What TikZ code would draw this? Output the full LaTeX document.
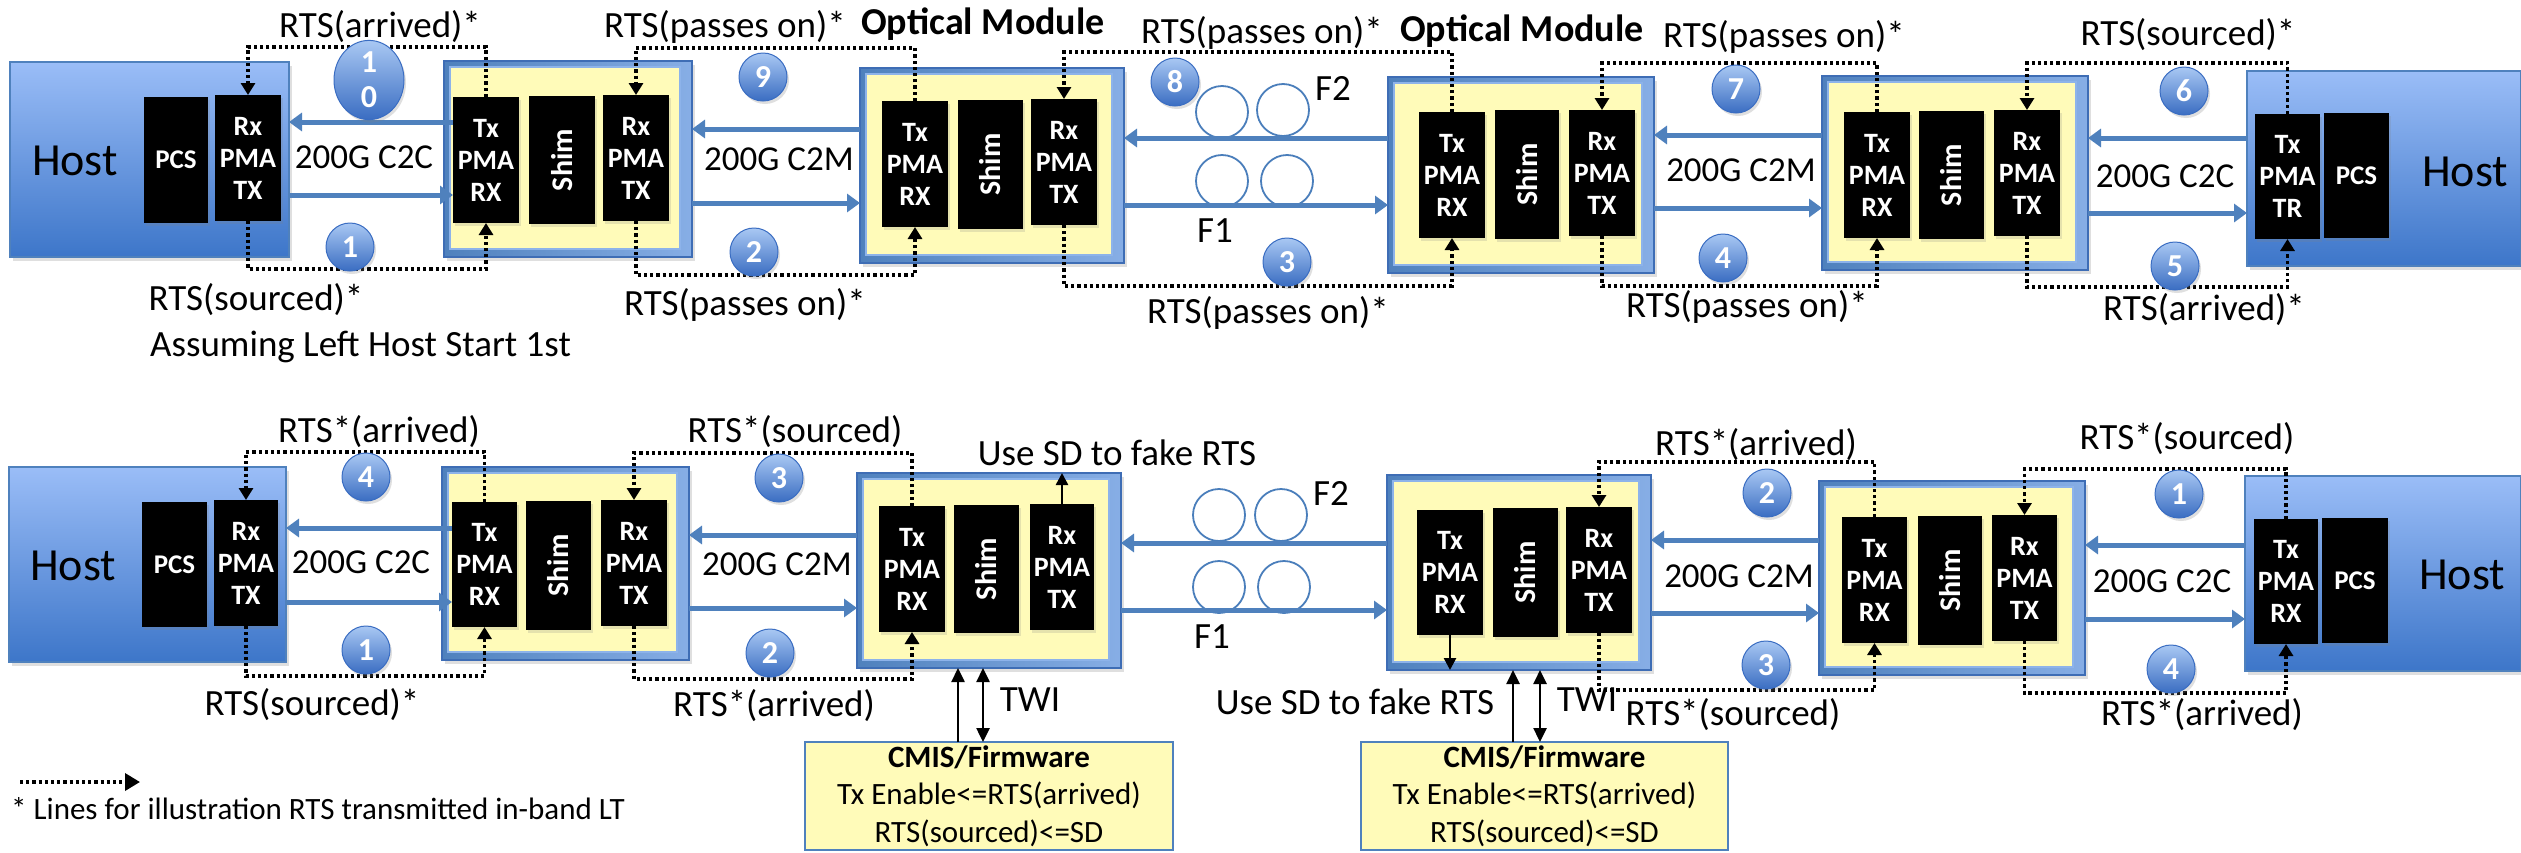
\documentclass[tikz,border=0pt]{standalone}
\usepackage{fontspec}
\setmainfont{Carlito}
\usepackage{graphicx}
\usetikzlibrary{arrows.meta,shapes.geometric,shadows}
\definecolor{frameblue}{HTML}{4F81BD}
\definecolor{framedark}{HTML}{3E6DB5}
\definecolor{framelight}{HTML}{8DB3EA}
\definecolor{hosttop}{HTML}{9ABDF7}
\definecolor{hostbot}{HTML}{3D76C9}
\definecolor{yel}{HTML}{FFFBB9}
\definecolor{arrowblue}{HTML}{4F81BD}
\definecolor{badgetop}{HTML}{A9C8F3}
\definecolor{badgebot}{HTML}{3A6DC2}
\definecolor{loopblue}{HTML}{4A7EBB}

\newcommand\rbox[7]{\node[#2, anchor=north west, minimum width={#5-#3}, minimum height={#6-#4}] (#1) at (#3,#4) {#7};}
\newcommand\mkmod[5]{\rbox{#1}{modout}{#2}{#3}{#4}{#5}{}%
  \node[modin, anchor=north west, minimum width={#4-#2-18}, minimum height={#5-#3-14}] (#1in) at ({#2+6},{#3+6}) {};}
\newcommand\shimtxt{\rotatebox{90}{\fontsize{30}{30}\selectfont\bfseries Shim}}
\newcommand\rtsup[3]{\draw[rts] (#1.north) -- (#1.north |- 0,#3) -| (#2.north);}
\newcommand\rtsdown[3]{\draw[rts] (#1.south) -- (#1.south |- 0,#3) -| (#2.south);}

\tikzset{
  base/.style={inner sep=0, outer sep=0},
  hostbox/.style={base, draw=frameblue, line width=1.5, top color=hosttop, bottom color=hostbot,
    drop shadow={opacity=0.25, shadow xshift=3pt, shadow yshift=-4pt}},
  modout/.style={base, draw=framedark, line width=1.5, left color=frameblue, right color=framelight!90!frameblue,
    drop shadow={opacity=0.25, shadow xshift=3pt, shadow yshift=-4pt}},
  modin/.style={base, draw=framelight, line width=1.5, fill=yel},
  blk/.style={base, fill=black, text=white, font=\fontsize{28}{32}\selectfont\bfseries, align=center,
    drop shadow={opacity=0.2, shadow xshift=2pt, shadow yshift=-3pt}},
  pcs/.style={blk, font=\fontsize{27}{32}\selectfont\bfseries},
  cmis/.style={base, draw=frameblue, line width=2, fill=yel, align=center, font=\fontsize{31}{37.5}\selectfont},
  lbl/.style={inner sep=0, font=\fontsize{37}{40}\selectfont},
  rlbl/.style={inner sep=0, font=\fontsize{35}{40}\selectfont},
  hlbl/.style={inner sep=0, font=\fontsize{46}{50}\selectfont},
  omlbl/.style={inner sep=0, font=\fontsize{38}{42}\selectfont\bfseries},
  badge/.style={circle, minimum size=48, inner sep=0, draw=badgebot, line width=1, top color=badgetop,
    bottom color=badgebot, text=white, font=\fontsize{32}{35}\selectfont\bfseries,
    drop shadow={opacity=0.25, shadow xshift=2pt, shadow yshift=-3pt}},
  barrow/.style={draw=arrowblue, line width=5, -{Triangle[length=13pt,width=18pt]}},
  rts/.style={draw=black, line width=3.5, dash pattern=on 3.2pt off 3pt, -{Triangle[length=12pt,width=14pt]}},
  solidarr/.style={draw=black, line width=2.5, -{Triangle[length=12pt,width=12pt]}},
  twi/.style={draw=black, line width=2.5, {Triangle[length=14pt,width=13pt]}-{Triangle[length=14pt,width=13pt]}},
  twione/.style={draw=black, line width=2.5, -{Triangle[length=14pt,width=13pt]}},
  fiber/.style={draw=loopblue, line width=1.8},
}

\begin{document}
\begin{tikzpicture}[x=1pt, y=-1pt]
\useasboundingbox (0,0) rectangle (2521,852);
\fill[white] (0,0) rectangle (2521,852);

%% ================= TOP ROW =================
\rbox{thL}{hostbox}{10}{62}{289}{257}{}
\node[hlbl] (thLt) at (75,161) {Host};
\mkmod{tsL}{444}{61}{692}{257}
\mkmod{toL}{860}{68}{1124}{263}
\mkmod{toR}{1388}{77}{1654}{273}
\mkmod{tsR}{1822}{76}{2088}{270}
\rbox{thR}{hostbox}{2247}{71}{2521}{266}{}
\node[hlbl] (thRt) at (2465,172) {Host};

% fiber loops
\draw[fiber] (1222,112) circle[radius=26];
\draw[fiber] (1283,110) circle[radius=26];
\draw[fiber] (1222,181) circle[radius=26];
\draw[fiber] (1287,181) circle[radius=26];

% black boxes
\rbox{thLpcs}{pcs}{144}{97}{208}{223}{PCS}
\rbox{thLrx}{blk}{215}{95}{281}{221}{Rx\\PMA\\TX}
\rbox{tsLtx}{blk}{453}{97}{519}{223}{Tx\\PMA\\RX}
\rbox{tsLsh}{blk}{529}{96}{595}{224}{\shimtxt}
\rbox{tsLrx}{blk}{603}{95}{669}{221}{Rx\\PMA\\TX}
\rbox{toLtx}{blk}{882}{101}{948}{227}{Tx\\PMA\\RX}
\rbox{toLsh}{blk}{958}{100}{1023}{229}{\shimtxt}
\rbox{toLrx}{blk}{1031}{99}{1097}{225}{Rx\\PMA\\TX}
\rbox{toRtx}{blk}{1419}{112}{1485}{238}{Tx\\PMA\\RX}
\rbox{toRsh}{blk}{1495}{110}{1559}{239}{\shimtxt}
\rbox{toRrx}{blk}{1569}{110}{1635}{236}{Rx\\PMA\\TX}
\rbox{tsRtx}{blk}{1844}{112}{1910}{238}{Tx\\PMA\\RX}
\rbox{tsRsh}{blk}{1919}{111}{1984}{239}{\shimtxt}
\rbox{tsRrx}{blk}{1994}{110}{2060}{236}{Rx\\PMA\\TX}
\rbox{thRtx}{blk}{2255}{114}{2320}{239}{Tx\\PMA\\TR}
\rbox{thRpcs}{pcs}{2324}{113}{2389}{238}{PCS}

% blue link arrows
\draw[barrow] (tsLtx.west |- 0,122) -- (thL.east |- 0,122);
\draw[barrow] (thL.east |- 0,195) -- (tsLtx.west |- 0,195);
\draw[barrow] (toL.west |- 0,129) -- (tsL.east |- 0,129);
\draw[barrow] (tsL.east |- 0,203) -- (toL.west |- 0,203);
\draw[barrow] (toR.west |- 0,138) -- (toL.east |- 0,138);
\draw[barrow] (toL.east |- 0,205) -- (toR.west |- 0,205);
\draw[barrow] (tsR.west |- 0,135) -- (toR.east |- 0,135);
\draw[barrow] (toR.east |- 0,208) -- (tsR.west |- 0,208);
\draw[barrow] (thR.west |- 0,138) -- (tsR.east |- 0,138);
\draw[barrow] (tsR.east |- 0,213) -- (thR.west |- 0,213);

% RTS dotted loops
\rtsup{tsLtx}{thLrx}{47}
\rtsdown{thLrx}{tsLtx}{269}
\rtsup{toLtx}{tsLrx}{48}
\rtsdown{tsLrx}{toLtx}{275}
\rtsup{toRtx}{toLrx}{52}
\rtsdown{toLrx}{toRtx}{286}
\rtsup{tsRtx}{toRrx}{63}
\rtsdown{toRrx}{tsRtx}{286}
\rtsup{thRtx}{tsRrx}{63}
\rtsdown{tsRrx}{thRtx}{287}

% badges
\node[badge, ellipse, minimum width=70, minimum height=63, font=\fontsize{32}{35}\selectfont\bfseries, align=center] (tb10) at (369,80) {1\\0};
\node[badge] (tb1) at (350,247) {1};
\node[badge] (tb9) at (763,77) {9};
\node[badge] (tb2) at (754,252) {2};
\node[badge] (tb8) at (1175,82) {8};
\node[badge] (tb3) at (1287,262) {3};
\node[badge] (tb7) at (1736,89) {7};
\node[badge] (tb4) at (1723,258) {4};
\node[badge] (tb6) at (2184,91) {6};
\node[badge] (tb5) at (2175,266) {5};

% labels
\node[rlbl] (tl1) at (364,157) {200G C2C};
\node[rlbl] (tl2) at (779,159) {200G C2M};
\node[rlbl] (tl3) at (1741,170) {200G C2M};
\node[rlbl] (tl4) at (2165,176) {200G C2C};
\node[lbl] (tlf2) at (1333,88) {F2};
\node[lbl] (tlf1) at (1215,231) {F1};
\node[omlbl] (tom1) at (983,24) {Optical Module};
\node[omlbl] (tom2) at (1522,31) {Optical Module};
\node[lbl] (tr10) at (380,27) {RTS(arrived)*};
\node[lbl] (tr9) at (725,27) {RTS(passes on)*};
\node[lbl] (tr8) at (1262,33) {RTS(passes on)*};
\node[lbl] (tr7) at (1784,37) {RTS(passes on)*};
\node[lbl] (tr6) at (2188,35) {RTS(sourced)*};
\node[lbl] (tr1) at (256,300) {RTS(sourced)*};
\node[lbl] (tr2) at (745,305) {RTS(passes on)*};
\node[lbl] (tr3) at (1268,313) {RTS(passes on)*};
\node[lbl] (tr4) at (1747,307) {RTS(passes on)*};
\node[lbl] (tr5) at (2204,310) {RTS(arrived)*};
\node[lbl, anchor=west] (tass) at (150,347) {Assuming Left Host Start 1st};

%% ================= BOTTOM ROW =================
\rbox{bhL}{hostbox}{9}{467}{286}{662}{}
\node[hlbl] (bhLt) at (73,566) {Host};
\mkmod{bsL}{442}{467}{689}{660}
\mkmod{boL}{857}{473}{1121}{668}
\mkmod{boR}{1387}{475}{1651}{670}
\mkmod{bsR}{1819}{481}{2085}{675}
\rbox{bhR}{hostbox}{2245}{476}{2521}{671}{}
\node[hlbl] (bhRt) at (2462,575) {Host};

\draw[fiber] (1219,515) circle[radius=26];
\draw[fiber] (1281,515) circle[radius=26];
\draw[fiber] (1219,587) circle[radius=26];
\draw[fiber] (1284,587) circle[radius=26];

\rbox{bhLpcs}{pcs}{142}{502}{207}{627}{PCS}
\rbox{bhLrx}{blk}{214}{500}{278}{626}{Rx\\PMA\\TX}
\rbox{bsLtx}{blk}{452}{502}{517}{627}{Tx\\PMA\\RX}
\rbox{bsLsh}{blk}{526}{501}{591}{630}{\shimtxt}
\rbox{bsLrx}{blk}{601}{500}{667}{626}{Rx\\PMA\\TX}
\rbox{boLtx}{blk}{879}{506}{945}{632}{Tx\\PMA\\RX}
\rbox{boLsh}{blk}{954}{505}{1019}{633}{\shimtxt}
\rbox{boLrx}{blk}{1030}{504}{1094}{630}{Rx\\PMA\\TX}
\rbox{boRtx}{blk}{1417}{510}{1483}{635}{Tx\\PMA\\RX}
\rbox{boRsh}{blk}{1493}{508}{1558}{637}{\shimtxt}
\rbox{boRrx}{blk}{1566}{507}{1632}{633}{Rx\\PMA\\TX}
\rbox{bsRtx}{blk}{1842}{517}{1907}{643}{Tx\\PMA\\RX}
\rbox{bsRsh}{blk}{1918}{516}{1982}{645}{\shimtxt}
\rbox{bsRrx}{blk}{1992}{515}{2057}{641}{Rx\\PMA\\TX}
\rbox{bhRtx}{blk}{2254}{519}{2318}{644}{Tx\\PMA\\RX}
\rbox{bhRpcs}{pcs}{2322}{518}{2388}{643}{PCS}

\draw[barrow] (bsLtx.west |- 0,528) -- (bhL.east |- 0,528);
\draw[barrow] (bhL.east |- 0,602) -- (bsLtx.west |- 0,602);
\draw[barrow] (boL.west |- 0,535) -- (bsL.east |- 0,535);
\draw[barrow] (bsL.east |- 0,608) -- (boL.west |- 0,608);
\draw[barrow] (boR.west |- 0,543) -- (boL.east |- 0,543);
\draw[barrow] (boL.east |- 0,610) -- (boR.west |- 0,610);
\draw[barrow] (bsR.west |- 0,540) -- (boR.east |- 0,540);
\draw[barrow] (boR.east |- 0,613) -- (bsR.west |- 0,613);
\draw[barrow] (bhR.west |- 0,545) -- (bsR.east |- 0,545);
\draw[barrow] (bsR.east |- 0,619) -- (bhR.west |- 0,619);

\rtsup{bsLtx}{bhLrx}{452}
\rtsdown{bhLrx}{bsLtx}{676}
\rtsup{boLtx}{bsLrx}{453}
\rtsdown{bsLrx}{boLtx}{679}
\rtsup{bsRtx}{boRrx}{462}
\rtsdown{boRrx}{bsRtx}{690}
\rtsup{bhRtx}{bsRrx}{469}
\rtsdown{bsRrx}{bhRtx}{693}

% SD arrows
\draw[solidarr] (boLrx.north) -- (boLrx.north |- boL.north);
\draw[solidarr] (boRtx.south) -- (boRtx.south |- boR.south);

% CMIS boxes and TWI
\rbox{bcmL}{cmis}{805}{742}{1173}{850}{{\bfseries CMIS/Firmware}\\Tx Enable<=RTS(arrived)\\RTS(sourced)<=SD}
\rbox{bcmR}{cmis}{1361}{742}{1728}{850}{{\bfseries CMIS/Firmware}\\Tx Enable<=RTS(arrived)\\RTS(sourced)<=SD}
\draw[twione] (bcmL.north -| 958,0) -- (boL.south -| 958,0);
\draw[twi] (bcmL.north -| 983,0) -- (boL.south -| 983,0);
\draw[twione] (bcmR.north -| 1513,0) -- (boR.south -| 1513,0);
\draw[twi] (bcmR.north -| 1540,0) -- (boR.south -| 1540,0);

\node[badge] (bb4) at (366,477) {4};
\node[badge] (bb1) at (366,650) {1};
\node[badge] (bb3) at (779,478) {3};
\node[badge] (bb2) at (770,653) {2};
\node[badge] (bb2r) at (1767,493) {2};
\node[badge] (bb3r) at (1766,665) {3};
\node[badge] (bb1r) at (2179,494) {1};
\node[badge] (bb4r) at (2171,669) {4};

\node[rlbl] (bl1) at (361,562) {200G C2C};
\node[rlbl] (bl2) at (777,564) {200G C2M};
\node[rlbl] (bl3) at (1739,576) {200G C2M};
\node[rlbl] (bl4) at (2162,581) {200G C2C};
\node[lbl] (blf2) at (1331,493) {F2};
\node[lbl] (blf1) at (1212,637) {F1};
\node[lbl] (br4) at (379,432) {RTS*(arrived)};
\node[lbl] (br3) at (795,432) {RTS*(sourced)};
\node[lbl] (bsd1) at (1117,453) {Use SD to fake RTS};
\node[lbl] (br2r) at (1756,445) {RTS*(arrived)};
\node[lbl] (br1r) at (2187,439) {RTS*(sourced)};
\node[lbl] (br1) at (312,705) {RTS(sourced)*};
\node[lbl] (br2) at (774,706) {RTS*(arrived)};
\node[lbl] (bsd2) at (1355,702) {Use SD to fake RTS};
\node[lbl] (btwi1) at (1030,700) {TWI};
\node[lbl] (btwi2) at (1587,700) {TWI};
\node[lbl] (br3r) at (1733,715) {RTS*(sourced)};
\node[lbl] (br4r) at (2202,715) {RTS*(arrived)};

% footnote
\coordinate (fa) at (20,782);
\coordinate (fb) at (140,782);
\draw[rts, -{Triangle[length=15pt,width=17pt]}] (fa) -- (fb);
\node[lbl, anchor=west, font=\fontsize{31}{34}\selectfont] (fn) at (11,809) {* Lines for illustration RTS transmitted in-band LT};
\end{tikzpicture}
\end{document}
